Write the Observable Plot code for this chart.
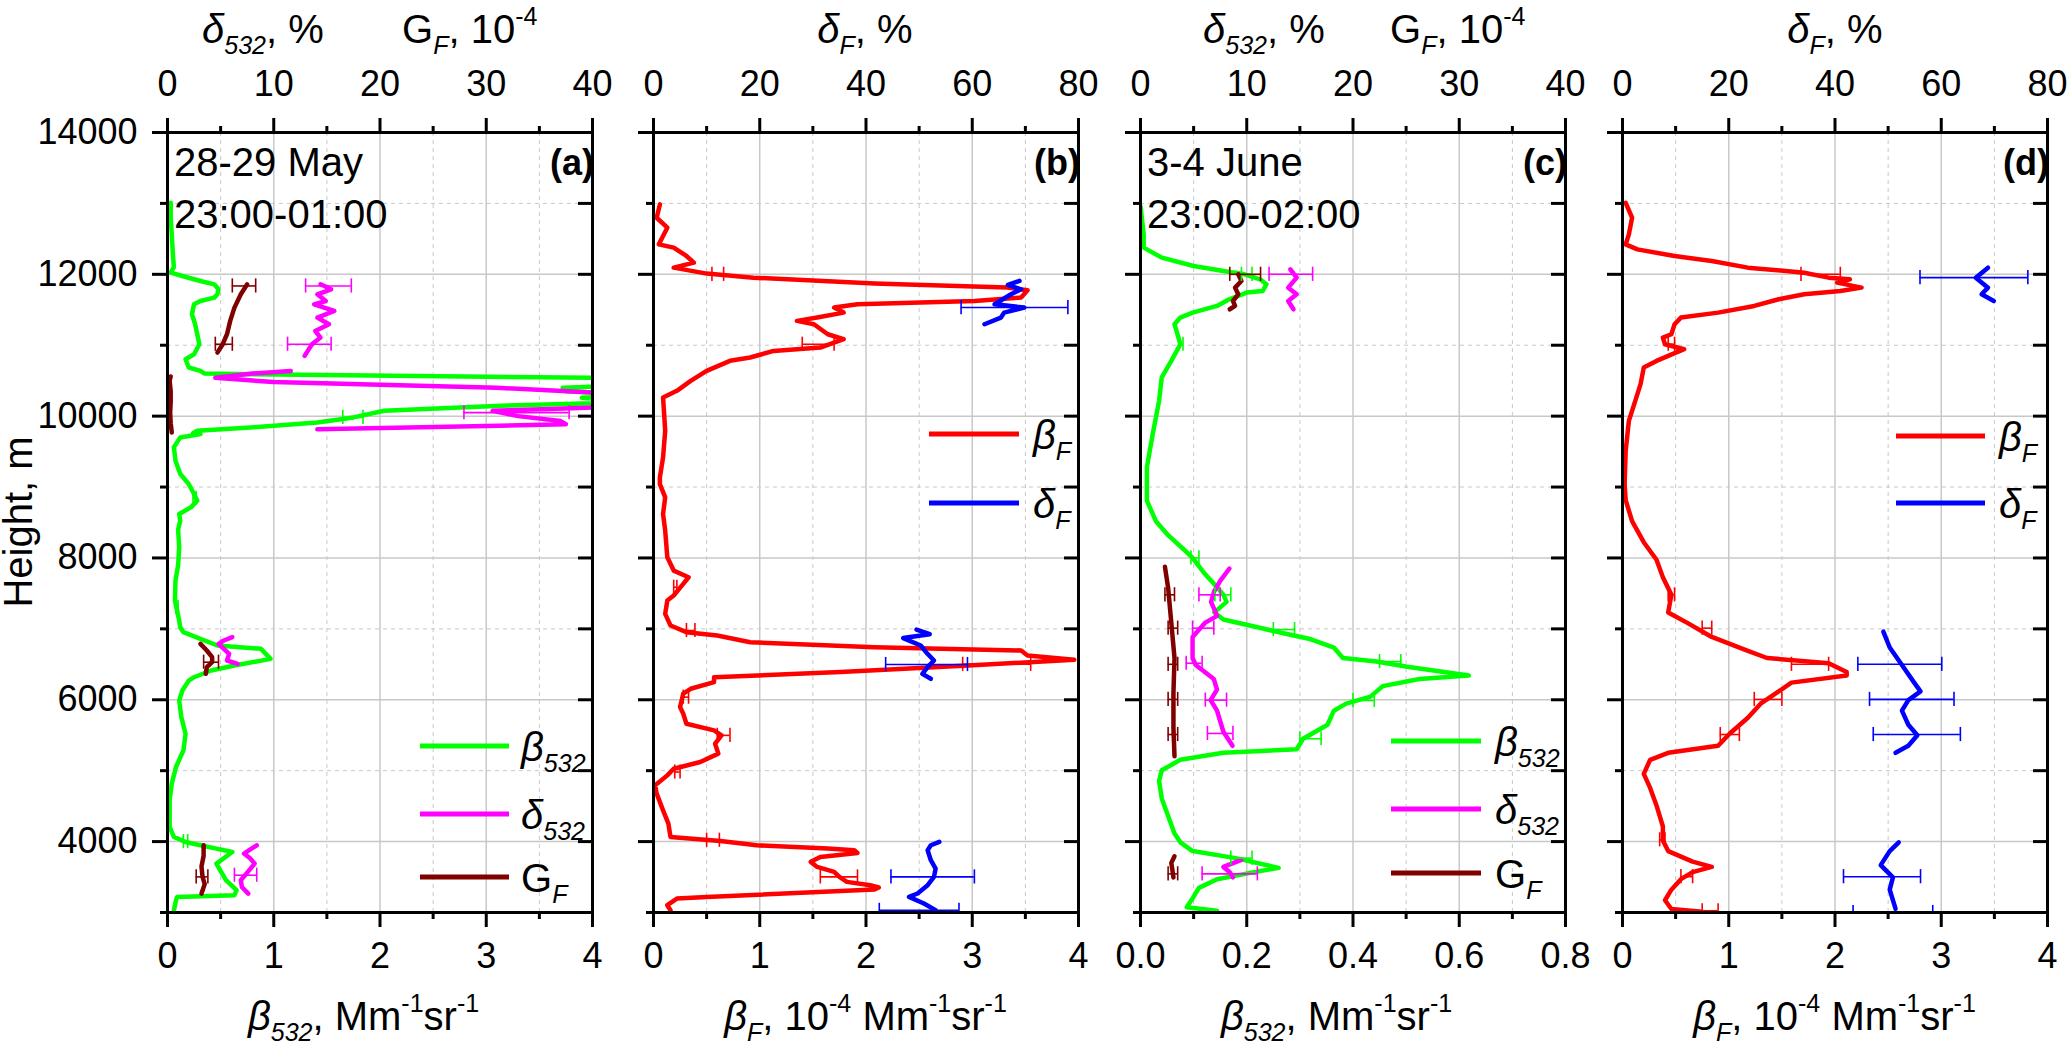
<!DOCTYPE html>
<html>
<head>
<meta charset="utf-8">
<script src="https://cdn.jsdelivr.net/npm/d3@7"></script>
<script src="https://cdn.jsdelivr.net/npm/@observablehq/plot@0.6"></script>
<style>
  body { margin: 0; background: #fff; }
  #chart { position: relative; width: 2067px; height: 1050px; font-family: "Liberation Sans", Arial, sans-serif; }
  #chart svg { position: absolute; top: 0; overflow: visible; }
</style>
</head>
<body>
<div id="chart"></div>
<script>
// ---- axis ticks ----
const heightMajor = [4000, 6000, 8000, 10000, 12000, 14000];
const heightMinor = [3000, 5000, 7000, 9000, 11000, 13000];
const xMajor4 = [0, 1, 2, 3, 4];
const xMinor4 = [0.5, 1.5, 2.5, 3.5];
const xMajor08 = [0, 0.2, 0.4, 0.6, 0.8];
const xMinor08 = [0.1, 0.3, 0.5, 0.7];

// ---- panel (a) 28-29 May : [height m, value] ----
const aBeta532 = [[3033,0.06],[3173,0.08],[3220,0.09],[3244,0.63],[3314,0.65],[3455,0.55],[3690,0.46],[3854,0.61],[3901,0.46],[3948,0.31],[3995,0.17],[4066,0.06],[4207,0.02],[4583,0.02],[4817,0.04],[5052,0.08],[5287,0.15],[5521,0.17],[5756,0.13],[5990,0.11],[6130,0.14],[6270,0.2],[6318,0.25],[6413,0.41],[6483,0.63],[6577,0.97],[6718,0.88],[6765,0.47],[6859,0.31],[6953,0.15],[7023,0.12],[7117,0.11],[7400,0.07],[7680,0.075],[7900,0.1],[8150,0.11],[8400,0.1],[8526,0.12],[8620,0.11],[8714,0.22],[8808,0.28],[8902,0.25],[9043,0.2],[9184,0.12],[9372,0.075],[9560,0.06],[9700,0.12],[9747,0.31],[9760,0.24],[9794,0.28],[9841,0.78],[9911,1.41],[9982,1.75],[10076,2.04],[10146,3.14],[10200,4.4],[10260,3.9],[10300,4.5],[10350,3.75],[10400,3.72],[10450,4.6],[10500,4.8],[10530,4.6],[10600,0.35],[10639,0.31],[10686,0.2],[10803,0.17],[10873,0.25],[11014,0.3],[11155,0.28],[11296,0.26],[11436,0.23],[11577,0.25],[11624,0.31],[11671,0.44],[11718,0.47],[11789,0.48],[11859,0.44],[11906,0.31],[11976,0.14],[12023,0.03],[12100,0.06],[12300,0.05],[12562,0.04],[12800,0.03],[13008,0.03]];
const aDelta532 = [
  [[3267,7.6],[3360,7.0],[3455,6.9],[3580,7.6],[3690,8.2],[3760,7.8],[3831,7.2],[3900,7.9],[3948,8.4]],
  [[6507,6.6],[6554,5.6],[6648,5.8],[6718,5.3],[6789,4.8],[6836,5.3],[6883,6.1]],
  [[9816,14.1],[9860,30],[9887,37.5],[9930,37],[10000,33],[10075,30.6],[10100,36],[10150,45],[10215,46],[10300,46],[10333,40],[10400,31],[10480,10],[10540,4.5],[10600,8],[10638,11.6]],
  [[10849,12.9],[10920,13.2],[11014,13.6],[11108,14.4],[11202,13.9],[11296,15.2],[11390,14.1],[11483,15.7],[11577,13.8],[11624,14.9],[11718,14.1],[11789,15.4],[11859,14.4]]
];
const aGF = [
  [[3267,3.2],[3400,3.5],[3502,3.3],[3650,3.2],[3800,3.4],[3948,3.4]],
  [[6366,3.6],[6460,3.7],[6530,4.2],[6601,4.2],[6695,3.7],[6789,3.1]],
  [[9770,0.4],[9900,0.3],[10050,0.25],[10200,0.3],[10350,0.3],[10500,0.2],[10560,0.3]],
  [[10897,4.7],[11014,5.2],[11155,5.6],[11343,5.9],[11530,6.3],[11718,6.9],[11859,7.5]]
];
// error bars: [height, low, high]
const aErrBeta532 = [[4000,0.15,0.19],[7300,0.08,0.1],[8840,0.24,0.27],[9982,1.65,1.84]];
const aErrDelta532 = [[3526,6.3,8.4],[10050,27.9,37.8],[11014,11.3,15.4],[11836,13.0,17.3]];
const aErrGF = [[3502,2.7,3.8],[6530,3.4,4.8],[11014,4.5,6.1],[11836,6.1,8.3]];

// ---- panel (b) ----
const bBetaF = [[3033,0.16],[3103,0.13],[3197,0.22],[3220,0.5],[3324,2.08],[3352,2.12],[3385,2.04],[3432,1.82],[3502,1.75],[3573,1.70],[3643,1.54],[3714,1.48],[3784,1.57],[3840,1.92],[3878,1.89],[3901,1.64],[3948,0.97],[4009,0.63],[4066,0.16],[4254,0.14],[4441,0.09],[4676,0.03],[4793,0.016],[4934,0.13],[5028,0.19],[5122,0.44],[5240,0.61],[5380,0.58],[5498,0.64],[5568,0.57],[5662,0.31],[5803,0.28],[5897,0.25],[6085,0.28],[6155,0.35],[6249,0.57],[6319,0.57],[6390,1.76],[6484,2.96],[6564,3.96],[6625,3.52],[6695,3.46],[6742,2.08],[6812,0.91],[6906,0.60],[6953,0.31],[7047,0.16],[7211,0.11],[7399,0.13],[7470,0.19],[7634,0.28],[7728,0.33],[7822,0.19],[8010,0.13],[8385,0.11],[8620,0.09],[8855,0.11],[9042,0.06],[9136,0.06],[9418,0.09],[9794,0.11],[10263,0.09],[10357,0.22],[10498,0.35],[10639,0.5],[10780,0.72],[10827,0.91],[10920,1.13],[10967,1.57],[11085,1.79],[11155,1.64],[11296,1.51],[11343,1.35],[11390,1.54],[11460,1.79],[11531,1.70],[11578,1.92],[11625,3.02],[11672,3.46],[11775,3.52],[11813,3.33],[11869,2.08],[11953,0.94],[12010,0.5],[12094,0.19],[12165,0.38],[12259,0.31],[12376,0.19],[12423,0.05],[12658,0.13],[12798,0.03],[12986,0.06]];
const bDeltaF = [
  [[3033,53.1],[3127,50.9],[3220,48.1],[3268,49.7],[3385,51.6],[3502,52.8],[3620,53.1],[3737,52.2],[3878,51.6],[3948,52.2],[3995,53.8]],
  [[6296,52.2],[6366,50.6],[6460,51.6],[6554,52.8],[6671,51.3],[6765,50.3],[6870,47],[6925,52],[6990,49.5]],
  [[11296,62.3],[11390,65.4],[11460,66.0],[11531,69.8],[11578,64.2],[11719,67.3],[11789,69.2],[11850,66.7],[11907,68.9]]
];
const bErrBetaF = [[3502,1.57,1.92],[4019,0.5,0.62],[4981,0.2,0.25],[5498,0.6,0.72],[6037,0.28,0.33],[6500,2.91,3.55],[6977,0.31,0.39],[7587,0.19,0.22],[11014,1.40,1.70],[12000,0.55,0.66]];
const bErrDeltaF = [[3030,42.5,57.5],[3502,44.7,60.4],[6497,43.7,59.1],[11531,57.9,78.0]];

// ---- panel (c) 3-4 June ----
const cBeta532 = [[3025,0.144],[3074,0.087],[3198,0.098],[3347,0.11],[3470,0.144],[3569,0.214],[3629,0.26],[3767,0.179],[3866,0.098],[3990,0.075],[4114,0.064],[4361,0.052],[4609,0.04],[4856,0.035],[5005,0.04],[5153,0.075],[5252,0.156],[5302,0.294],[5450,0.306],[5648,0.352],[5846,0.364],[5945,0.387],[6044,0.433],[6193,0.456],[6292,0.525],[6341,0.618],[6465,0.502],[6539,0.444],[6589,0.381],[6737,0.364],[6861,0.317],[6935,0.271],[7034,0.214],[7133,0.156],[7232,0.139],[7381,0.162],[7480,0.156],[7628,0.139],[7777,0.121],[8000,0.098],[8123,0.081],[8321,0.052],[8519,0.029],[8808,0.012],[9277,0.012],[9746,0.023],[10216,0.035],[10545,0.04],[10779,0.058],[11014,0.075],[11296,0.064],[11390,0.075],[11460,0.098],[11554,0.144],[11648,0.167],[11742,0.2],[11765,0.23],[11859,0.237],[11930,0.225],[12000,0.196],[12047,0.156],[12117,0.1],[12235,0.04],[12376,0.006],[12563,0.006],[12962,0]];
const cDelta532 = [
  [[3495,8.7],[3569,8.4],[3643,7.8],[3742,9.5]],
  [[5351,8.66],[5549,7.8],[5846,7.2],[5995,6.6],[6143,7.2],[6292,6.9],[6490,5.2],[6589,4.9],[6886,4.9],[7084,6.06],[7183,7.21],[7381,6.64],[7529,6.93],[7678,7.5],[7851,8.37]],
  [[11507,14.4],[11624,13.9],[11718,14.7],[11812,13.9],[11953,14.7],[12070,14.1]]
];
const cGF = [
  [[3495,3.1],[3600,3.0],[3700,2.9],[3792,3.2]],
  [[5203,3.2],[5599,3.1],[6094,3.1],[6589,3.2],[7084,2.9],[7579,2.6],[7876,2.3]],
  [[11507,8.4],[11554,8.9],[11624,8.7],[11718,9.2],[11812,8.9],[11906,9.5],[12000,9.2]]
];
const cErrBeta532 = [[3767,0.17,0.21],[5450,0.3,0.34],[5990,0.4,0.44],[6539,0.45,0.49],[6990,0.25,0.29],[7480,0.14,0.17],[8000,0.095,0.11],[11014,0.072,0.08],[12000,0.19,0.21]];
const cErrDelta532 = [[3545,5.8,11],[5525,6.3,8.7],[5995,6.1,8.1],[6515,4.3,5.8],[7010,4.9,6.9],[7480,5.5,7.5],[12000,12.1,16.2]];
const cErrGF = [[3545,2.6,3.5],[5510,2.6,3.5],[6005,2.6,3.5],[6500,2.6,3.5],[7010,2.6,3.5],[7480,2.3,3.2],[12000,8.4,11.3]];

// ---- panel (d) ----
const dBetaF = [[3010,0.75],[3050,0.46],[3173,0.40],[3322,0.46],[3470,0.55],[3569,0.66],[3643,0.84],[3718,0.66],[3866,0.43],[4015,0.38],[4213,0.38],[4510,0.32],[4757,0.26],[4955,0.20],[5153,0.26],[5252,0.43],[5351,0.90],[5525,1.01],[5747,1.18],[5945,1.30],[6118,1.47],[6242,1.59],[6341,2.11],[6391,2.11],[6515,1.94],[6589,1.36],[6688,1.18],[6886,0.84],[7084,0.61],[7232,0.43],[7480,0.46],[7727,0.38],[7975,0.32],[8222,0.2],[8519,0.09],[8816,0.03],[9042,0.02],[9512,0.03],[9934,0.06],[10216,0.12],[10451,0.17],[10685,0.20],[10779,0.32],[10850,0.43],[10944,0.58],[11014,0.40],[11108,0.38],[11155,0.46],[11296,0.49],[11390,0.55],[11460,0.90],[11554,1.24],[11648,1.47],[11718,1.71],[11765,2.05],[11812,2.25],[11883,2.02],[11930,2.14],[11953,1.94],[12023,1.71],[12094,1.18],[12188,0.84],[12258,0.49],[12352,0.14],[12423,0.03],[12563,0.06],[12798,0.09],[13009,0.03]];
const dDeltaF = [
  [[3050,51.4],[3322,50.3],[3495,50.9],[3668,48.6],[3866,50.3],[3990,52.0]],
  [[5252,51.4],[5351,53.8],[5500,55.5],[5648,53.8],[5846,52.6],[5995,53.8],[6118,56.1],[6242,54.9],[6490,52.6],[6737,50.3],[6960,49.1]],
  [[11624,69.9],[11718,67.6],[11812,68.8],[11953,66.5],[12094,68.8]]
];
const dErrBetaF = [[3025,0.75,0.9],[3505,0.55,0.66],[4025,0.35,0.4],[5510,0.92,1.1],[6005,1.24,1.5],[6500,1.59,1.94],[7010,0.75,0.84],[7480,0.43,0.49],[11014,0.43,0.49],[12000,1.68,2.05]];
const dErrDeltaF = [[3000,43.4,58.4],[3505,41.6,56.1],[5510,47.2,63.6],[6005,46.5,62.4],[6500,44.3,60.1],[11953,56,76.3]];

// ---- text ----
const txtBeta532 = [["β","i"],["532","isub"]];
const txtDelta532 = [["δ","i"],["532","isub"]];
const txtGF = [["G"],["F","isub"]];
const txtBetaF = [["β","i"],["F","isub"]];
const txtDeltaF = [["δ","i"],["F","isub"]];

const col = {green: "#00ff00", magenta: "#ff00ff", maroon: "#800000", red: "#ff0000", blue: "#0000ff"};
const W = 425;

function rows(segs) {
  return segs.flatMap((s, i) => s.map(([h, v]) => ({h, v, seg: i})));
}

// text with italic / subscript / superscript pieces
function rich(svg, x, y, parts, {size = 40, anchor = "start", rotate = null, weight = null} = {}) {
  const t = svg.append("text").attr("x", x).attr("y", y)
    .attr("font-size", size).attr("text-anchor", anchor).attr("fill", "black");
  if (rotate != null) t.attr("transform", `rotate(${rotate},${x},${y})`);
  if (weight) t.attr("font-weight", weight);
  let shift = 0;
  for (const [s, kind = ""] of parts) {
    const want = kind.includes("sub") ? size * 0.27 : kind.includes("sup") ? -size * 0.45 : 0;
    const ts = t.append("tspan").text(s).attr("dy", want - shift);
    shift = want;
    if (kind.startsWith("i")) ts.attr("font-style", "italic");
    if (want) ts.attr("font-size", Math.round(size * 0.63));
  }
  return t;
}

function panel(cfg) {
  const mL = cfg.marginLeft, mR = 22;
  const grid = {stroke: "#c8c8c8", strokeOpacity: 1};
  const marks = [
    Plot.gridX(cfg.xMinor, {...grid, strokeWidth: 1, strokeDasharray: "4,4"}),
    Plot.gridY(heightMinor.slice(1), {...grid, strokeWidth: 1, strokeDasharray: "4,4"}),
    Plot.gridX(cfg.xMajor.slice(1, -1), {...grid, strokeWidth: 1.5}),
    Plot.gridY(heightMajor.slice(0, -1), {...grid, strokeWidth: 1.5})
  ];
  for (const s of cfg.series) {
    marks.push(Plot.line(rows(s.segs), {
      x: d => d.v / s.k, y: "h", z: "seg", stroke: s.color,
      strokeWidth: 4.5, strokeLinejoin: "round", clip: true
    }));
  }
  for (const s of cfg.series) {
    const e = s.err.map(([h, lo, hi]) => ({h, lo, hi}));
    const st = {stroke: s.color, strokeWidth: 1.6, clip: true};
    marks.push(
      Plot.ruleY(e, {y: "h", x1: d => d.lo / s.k, x2: d => d.hi / s.k, ...st}),
      Plot.ruleX(e, {x: d => d.lo / s.k, y1: d => d.h - 100, y2: d => d.h + 100, ...st}),
      Plot.ruleX(e, {x: d => d.hi / s.k, y1: d => d.h - 100, y2: d => d.h + 100, ...st})
    );
  }
  const allH = d3.range(4000, 14000, 1000);
  marks.push(
    Plot.axisY(heightMajor, {anchor: "left", tickSize: 15, tickPadding: 15, strokeWidth: 3, fontSize: 36, label: null,
      tickFormat: cfg.yLabels ? d => String(d) : () => ""}),
    Plot.axisY(heightMinor, {anchor: "left", tickSize: 7, strokeWidth: 3, label: null, tickFormat: () => ""}),
    Plot.tickY(allH, {y: d => d, insetLeft: W - 14, strokeWidth: 3}),
    Plot.axisX(cfg.xMajor, {anchor: "bottom", tickSize: 15, tickPadding: 15, strokeWidth: 3, fontSize: 36, label: null, tickFormat: cfg.fmtBottom}),
    Plot.axisX(cfg.xMinor, {anchor: "bottom", tickSize: 7, strokeWidth: 3, label: null, tickFormat: () => ""}),
    Plot.axisX(cfg.xMajor, {anchor: "top", tickSize: 15, tickPadding: 22, strokeWidth: 3, fontSize: 36, label: null, tickFormat: cfg.fmtTop}),
    Plot.axisX(cfg.xMinor, {anchor: "top", tickSize: 7, strokeWidth: 3, label: null, tickFormat: () => ""}),
    Plot.frame({stroke: "black", strokeWidth: 3})
  );

  const chart = Plot.plot({
    width: mL + W + mR,
    height: 1050,
    marginLeft: mL, marginRight: mR, marginTop: 132, marginBottom: 138,
    style: {fontFamily: "'Liberation Sans', Arial, sans-serif", background: "transparent", color: "black", overflow: "visible"},
    x: {domain: [0, cfg.xMax]},
    y: {domain: [3000, 14000]},
    marks
  });
  chart.style.left = (cfg.left - mL) + "px";
  d3.select("#chart").append(() => chart);

  const svg = d3.select(chart);
  const right = mL + W, mid = mL + W / 2;
  // axis titles
  for (const t of cfg.topTitles) rich(svg, t.x - cfg.left + mL, 43, t.parts, {anchor: t.anchor || "start"});
  rich(svg, mid + cfg.bottomShift, 1030, cfg.bottomTitle, {anchor: "middle"});
  // panel letter
  svg.append("text").attr("x", right + 2).attr("y", 175).attr("text-anchor", "end")
    .attr("font-size", 36).attr("font-weight", "bold").text(cfg.letter);
  // date / time
  if (cfg.note) cfg.note.forEach((s, i) => rich(svg, mL + 7, 176 + i * 52, [[s]], {size: 40}));
  // legend
  const lg = svg.append("g");
  cfg.series.forEach((s, i) => {
    const y = cfg.legend.ys[i];
    lg.append("line").attr("x1", right - cfg.legend.x1).attr("x2", right - cfg.legend.x2)
      .attr("y1", y).attr("y2", y).attr("stroke", s.color).attr("stroke-width", 5);
    rich(lg, right - cfg.legend.tx, y + 15, s.label, {size: 40});
  });
  return svg;
}

const svgA = panel({
  left: 167, marginLeft: 167, xMax: 4, xMajor: xMajor4, xMinor: xMinor4, yLabels: true,
  fmtBottom: d => String(d), fmtTop: d => String(d * 10), letter: "(a)",
  note: ["28-29 May", "23:00-01:00"],
  topTitles: [{x: 202, parts: [["δ","i"],["532","isub"],[", %"]]}, {x: 402, parts: [["G"],["F","isub"],[", 10"],["-4","sup"]]}],
  bottomTitle: [["β","i"],["532","isub"],[", Mm"],["-1","sup"],["sr"],["-1","sup"]], bottomShift: -16,
  legend: {x1: 172, x2: 83, tx: 71, ys: [746, 814, 877]},
  series: [
    {segs: [aBeta532], k: 1, color: col.green, err: aErrBeta532, label: txtBeta532},
    {segs: aDelta532, k: 10, color: col.magenta, err: aErrDelta532, label: txtDelta532},
    {segs: aGF, k: 10, color: col.maroon, err: aErrGF, label: txtGF}
  ]
});
rich(svgA, 32, 522, [["Height, m"]], {size: 40, anchor: "middle", rotate: -90});

panel({
  left: 653, marginLeft: 40, xMax: 4, xMajor: xMajor4, xMinor: xMinor4,
  fmtBottom: d => String(d), fmtTop: d => String(d * 20), letter: "(b)",
  topTitles: [{x: 865, anchor: "middle", parts: [["δ","i"],["F","isub"],[", %"]]}],
  bottomTitle: [["β","i"],["F","isub"],[", 10"],["-4","sup"],[" Mm"],["-1","sup"],["sr"],["-1","sup"]], bottomShift: 0,
  legend: {x1: 149, x2: 59, tx: 45, ys: [434, 503]},
  series: [
    {segs: [bBetaF], k: 1, color: col.red, err: bErrBetaF, label: txtBetaF},
    {segs: bDeltaF, k: 20, color: col.blue, err: bErrDeltaF, label: txtDeltaF}
  ]
});

panel({
  left: 1140, marginLeft: 40, xMax: 0.8, xMajor: xMajor08, xMinor: xMinor08,
  fmtBottom: d3.format(".1f"), fmtTop: d => String(Math.round(d * 50)), letter: "(c)",
  note: ["3-4 June", "23:00-02:00"],
  topTitles: [{x: 1203, parts: [["δ","i"],["532","isub"],[", %"]]}, {x: 1390, parts: [["G"],["F","isub"],[", 10"],["-4","sup"]]}],
  bottomTitle: [["β","i"],["532","isub"],[", Mm"],["-1","sup"],["sr"],["-1","sup"]], bottomShift: -16,
  legend: {x1: 174, x2: 84, tx: 70, ys: [741, 809, 873]},
  series: [
    {segs: [cBeta532], k: 1, color: col.green, err: cErrBeta532, label: txtBeta532},
    {segs: cDelta532, k: 50, color: col.magenta, err: cErrDelta532, label: txtDelta532},
    {segs: cGF, k: 50, color: col.maroon, err: cErrGF, label: txtGF}
  ]
});

panel({
  left: 1622, marginLeft: 40, xMax: 4, xMajor: xMajor4, xMinor: xMinor4,
  fmtBottom: d => String(d), fmtTop: d => String(d * 20), letter: "(d)",
  topTitles: [{x: 1835, anchor: "middle", parts: [["δ","i"],["F","isub"],[", %"]]}],
  bottomTitle: [["β","i"],["F","isub"],[", 10"],["-4","sup"],[" Mm"],["-1","sup"],["sr"],["-1","sup"]], bottomShift: 0,
  legend: {x1: 151, x2: 62, tx: 48, ys: [436, 503]},
  series: [
    {segs: [dBetaF], k: 1, color: col.red, err: dErrBetaF, label: txtBetaF},
    {segs: dDeltaF, k: 20, color: col.blue, err: dErrDeltaF, label: txtDeltaF}
  ]
});
</script>
</body>
</html>
